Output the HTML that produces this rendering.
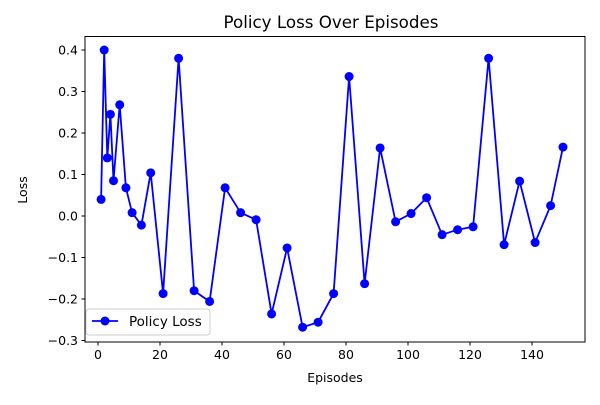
<!DOCTYPE html>
<html><head><meta charset="utf-8"><style>
body{margin:0;background:#fff;font-family:"Liberation Sans","DejaVu Sans",sans-serif}
</style></head><body>
<svg id="chart" width="600" height="400" xmlns="http://www.w3.org/2000/svg" font-family="DejaVu Sans, Liberation Sans, sans-serif">
<rect width="600" height="400" fill="#fff"/>
<text x="331" y="28" font-size="16.7" text-anchor="middle">Policy Loss Over Episodes</text>
<text x="335" y="382" font-size="12.5" text-anchor="middle">Episodes</text>
<text transform="translate(27,190) rotate(-90)" font-size="12.5" text-anchor="middle">Loss</text>
<g id="axes"></g>
<g id="series"></g>
<rect x="85" y="36.5" width="500" height="305.5" fill="none" stroke="#000" stroke-width="1"/>
<g>
<rect x="86" y="309" width="124" height="26" fill="#fff" fill-opacity="0.8" stroke="#ccc" rx="3"/>
<line x1="92" y1="321" x2="118" y2="321" stroke="#0000ff" stroke-width="1.8"/>
<circle cx="105" cy="321" r="4.5" fill="#0000ff"/>
<text x="129" y="326" font-size="13.5">Policy Loss</text>
</g>
</svg>
<script>
const episodes=[1,2,3,4,5,7,9,11,14,17,21,26,31,36,41,46,51,56,61,66,71,76,81,86,91,96,101,106,111,116,121,126,131,136,141,146,150];
const losses=[0.04,0.40,0.14,0.245,0.085,0.268,0.068,0.008,-0.022,0.104,-0.187,0.380,-0.180,-0.206,0.068,0.008,-0.009,-0.236,-0.077,-0.268,-0.256,-0.187,0.336,-0.163,0.164,-0.014,0.006,0.044,-0.045,-0.033,-0.026,0.380,-0.069,0.084,-0.064,0.025,0.166];
const xTicks=[0,20,40,60,80,100,120,140];
const yTicks=[-0.3,-0.2,-0.1,0.0,0.1,0.2,0.3,0.4];
const NS="http://www.w3.org/2000/svg";
const xs=v=>98+v*3.1;
const ys=v=>216-v*415;
const axes=document.getElementById('axes');
const ser=document.getElementById('series');
function mk(t,a){const e=document.createElementNS(NS,t);for(const k in a)e.setAttribute(k,a[k]);return e;}
xTicks.forEach(t=>{
  const l=mk('line',{x1:xs(t),x2:xs(t),y1:342,y2:345.5,stroke:'#000'});
  
  
  axes.appendChild(l);
  const tx=mk('text',{x:xs(t),y:359,'font-size':12.5,'text-anchor':'middle'});
  
  
  tx.textContent=t;axes.appendChild(tx);
});
yTicks.forEach(t=>{
  const l=mk('line',{x1:81.5,x2:85,y1:ys(t),y2:ys(t),stroke:'#000'});
  
  
  axes.appendChild(l);
  const tx=mk('text',{x:78,y:ys(t)+4.5,'font-size':12.5,'text-anchor':'end'});
  
  
  tx.textContent=(t<0?'\u2212':'')+Math.abs(t).toFixed(1);axes.appendChild(tx);
});
const pts=episodes.map((e,i)=>xs(e)+','+ys(losses[i])).join(' ');
const pl=mk('polyline',{points:pts,fill:'none',stroke:'#0000ff','stroke-width':1.8});


ser.appendChild(pl);
episodes.forEach((e,i)=>{
  const c=mk('circle',{cx:xs(e),cy:ys(losses[i]),r:4.5,fill:'#0000ff'});
  
  
  ser.appendChild(c);
});
</script>
</body></html>
